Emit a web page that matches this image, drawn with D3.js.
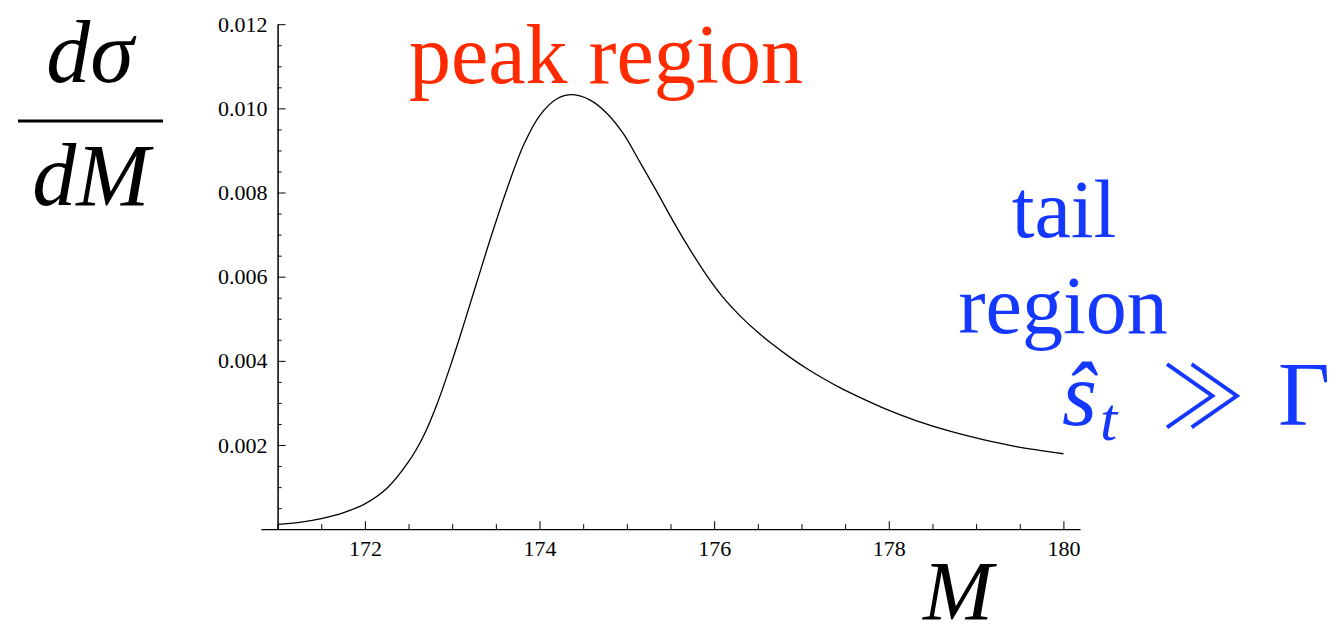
<!DOCTYPE html>
<html>
<head>
<meta charset="utf-8">
<script src="https://cdn.jsdelivr.net/npm/d3@7"></script>
<style>
  html, body { margin: 0; padding: 0; background: #fff; }
  svg { display: block; }
  .tick text { font-family: Liberation Serif; font-size: 22px; fill: #000; }
</style>
</head>
<body>
<svg id="chart" width="1339" height="638"></svg>
<script>
// Invariant-mass distribution near the top-quark resonance
const massValues = [171, 171.25, 171.5, 171.75, 172, 172.25, 172.5, 172.67, 172.82, 173, 173.13, 173.28,
  173.44, 173.63, 173.82, 174.0, 174.2, 174.38, 174.58, 174.77, 174.96, 175.15, 175.34, 175.53,
  175.72, 175.92, 176.1, 176.3, 176.49, 176.68, 176.87, 177.06, 177.25, 177.44, 177.65, 177.94,
  178.32, 178.7, 179.08, 179.46, 180];
const crossSection = [0.000116, 0.000164, 0.000254, 0.00039, 0.000603, 0.000967, 0.001603, 0.002209,
  0.00294, 0.004009, 0.00485, 0.005855, 0.006919, 0.008102, 0.00914, 0.009824, 0.010228, 0.010325,
  0.010195, 0.009886, 0.009399, 0.008722, 0.008033, 0.007321, 0.006656, 0.006014, 0.005515, 0.005064,
  0.004696, 0.004375, 0.004083, 0.003817, 0.00358, 0.003363, 0.00315, 0.002879, 0.002575, 0.002328,
  0.002128, 0.001964, 0.001793];

const xMajorTicks = [172, 174, 176, 178, 180];
const xMinorTicks = [171, 171.5, 172.5, 173, 173.5, 174.5, 175, 175.5, 176.5, 177, 177.5, 178.5, 179, 179.5];
const yMajorTicks = [0.002, 0.004, 0.006, 0.008, 0.010, 0.012];
const yMinorTicks = [0.0005, 0.001, 0.0015, 0.0025, 0.003, 0.0035, 0.0045, 0.005, 0.0055, 0.0065, 0.007,
  0.0075, 0.0085, 0.009, 0.0095, 0.0105, 0.011, 0.0115];

const SERIF = "Liberation Serif";

const svg = d3.select("#chart");

const x = d3.scaleLinear().domain([170.81, 180.19]).range([261, 1080]);
const y = d3.scaleLinear().domain([0, 0.012]).range([529.2, 24.2]);

const xAxisY = y(0);
const yAxisX = x(171);

// horizontal axis: ticks pointing up into the plot
svg.append("g")
  .attr("transform", `translate(0,${xAxisY})`)
  .call(d3.axisBottom(x).tickValues(xMajorTicks).tickFormat(d3.format("d"))
    .tickSize(-8).tickSizeOuter(0).tickPadding(11))
  .call(g => g.attr("font-family", SERIF).attr("font-size", 22))
  .call(g => g.select(".domain").attr("stroke", "#000").attr("stroke-width", 1.2))
  .call(g => g.selectAll(".tick line").attr("stroke", "#000"));

svg.append("g")
  .attr("transform", `translate(0,${xAxisY})`)
  .call(d3.axisBottom(x).tickValues(xMinorTicks).tickFormat("").tickSize(-5))
  .call(g => g.select(".domain").remove())
  .call(g => g.selectAll(".tick line").attr("stroke", "#000"));

// vertical axis: ticks pointing right into the plot
svg.append("g")
  .attr("transform", `translate(${yAxisX},0)`)
  .call(d3.axisLeft(y).tickValues(yMajorTicks).tickFormat(d3.format(".3f"))
    .tickSize(-8).tickSizeOuter(0).tickPadding(10))
  .call(g => g.attr("font-family", SERIF).attr("font-size", 22))
  .call(g => g.select(".domain").attr("stroke", "#000").attr("stroke-width", 1.5))
  .call(g => g.selectAll(".tick line").attr("stroke", "#000"));

svg.append("g")
  .attr("transform", `translate(${yAxisX},0)`)
  .call(d3.axisLeft(y).tickValues(yMinorTicks).tickFormat("").tickSize(-4))
  .call(g => g.select(".domain").remove())
  .call(g => g.selectAll(".tick line").attr("stroke", "#000"));

// distribution curve
const points = massValues.map((m, i) => [m, crossSection[i]]);
svg.append("path")
  .datum(points)
  .attr("fill", "none")
  .attr("stroke", "#000")
  .attr("stroke-width", 1.3)
  .attr("d", d3.line().x(d => x(d[0])).y(d => y(d[1])).curve(d3.curveCatmullRom.alpha(0.5)));

// axis titles
const yTitle = svg.append("g").attr("font-family", SERIF);
yTitle.append("text").attr("x", 90).attr("y", 82).attr("text-anchor", "middle")
  .attr("font-style", "italic").attr("font-size", 88).text("dσ");
yTitle.append("line").attr("x1", 18).attr("x2", 163).attr("y1", 121).attr("y2", 121)
  .attr("stroke", "#000").attr("stroke-width", 3);
yTitle.append("text").attr("x", 91).attr("y", 205).attr("text-anchor", "middle")
  .attr("font-style", "italic").attr("font-size", 88).text("dM");

svg.append("text").attr("font-family", SERIF).attr("x", 958).attr("y", 620).attr("text-anchor", "middle")
  .attr("font-style", "italic").attr("font-size", 84).text("M");

// region annotations
const red = "#ff2a00", blue = "#1438ff";
svg.append("text").attr("font-family", SERIF).attr("x", 606).attr("y", 83).attr("text-anchor", "middle")
  .attr("font-size", 84).attr("fill", red).text("peak region");
svg.append("text").attr("font-family", SERIF).attr("x", 1064).attr("y", 237).attr("text-anchor", "middle")
  .attr("font-size", 82).attr("fill", blue).text("tail");
svg.append("text").attr("font-family", SERIF).attr("x", 1063).attr("y", 333).attr("text-anchor", "middle")
  .attr("font-size", 82).attr("fill", blue).text("region");

const rel = svg.append("g").attr("font-family", SERIF).attr("fill", blue);
rel.append("text").attr("x", 1062).attr("y", 425).attr("font-style", "italic").attr("font-size", 90).text("ŝ");
rel.append("text").attr("x", 1100).attr("y", 440).attr("font-style", "italic").attr("font-size", 62).text("t");
rel.append("text").attr("x", 1160).attr("y", 428).attr("font-family", "Noto Sans CJK JP")
  .attr("font-weight", 300).attr("font-size", 86).text("≫");
rel.append("text").attr("x", 1278).attr("y", 425).attr("font-size", 90).text("Γ");
</script>
</body>
</html>
